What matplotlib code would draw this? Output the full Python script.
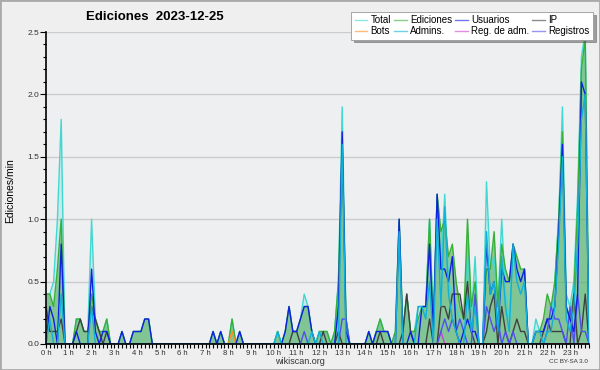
import numpy as np
import matplotlib
matplotlib.use('Agg')
import matplotlib.pyplot as plt
from matplotlib.lines import Line2D
from matplotlib.patches import Rectangle

# values per 10 min (edits/min), one row per hour
total = [0.4, 0.4, 0.5, 1.0, 1.8, 0.0,
         0.0, 0.0, 0.2, 0.2, 0.1, 0.1,
         1.0, 0.2, 0.1, 0.1, 0.2, 0.0,
         0.0, 0.0, 0.1, 0.0, 0.0, 0.1,
         0.1, 0.1, 0.2, 0.2, 0.0, 0.0,
         0.0, 0.0, 0.0, 0.0, 0.0, 0.0,
         0.0, 0.0, 0.0, 0.0, 0.0, 0.0,
         0.0, 0.0, 0.1, 0.0, 0.1, 0.0,
         0.0, 0.2, 0.0, 0.1, 0.0, 0.0,
         0.0, 0.0, 0.0, 0.0, 0.0, 0.0,
         0.0, 0.1, 0.0, 0.1, 0.3, 0.1,
         0.1, 0.2, 0.4, 0.3, 0.1, 0.0,
         0.1, 0.1, 0.1, 0.0, 0.1, 0.5,
         1.9, 0.2, 0.0, 0.0, 0.0, 0.0,
         0.0, 0.1, 0.0, 0.1, 0.2, 0.1,
         0.1, 0.0, 0.1, 1.0, 0.1, 0.4,
         0.1, 0.1, 0.3, 0.3, 0.3, 1.0,
         0.2, 1.2, 0.6, 1.2, 0.5, 0.4,
         0.3, 0.2, 0.1, 0.8, 0.2, 0.7,
         0.0, 0.0, 1.3, 0.6, 0.7, 0.3,
         1.0, 0.4, 0.2, 0.8, 0.6, 0.5,
         0.6, 0.0, 0.0, 0.2, 0.1, 0.1,
         0.2, 0.2, 0.5, 1.0, 1.9, 0.4,
         0.3, 0.5, 1.2, 2.3, 2.5, 0.0]
edits = [0.4, 0.4, 0.3, 0.6, 1.0, 0.0,
         0.0, 0.0, 0.2, 0.2, 0.1, 0.1,
         0.4, 0.2, 0.1, 0.1, 0.2, 0.0,
         0.0, 0.0, 0.1, 0.0, 0.0, 0.1,
         0.1, 0.1, 0.2, 0.2, 0.0, 0.0,
         0.0, 0.0, 0.0, 0.0, 0.0, 0.0,
         0.0, 0.0, 0.0, 0.0, 0.0, 0.0,
         0.0, 0.0, 0.1, 0.0, 0.1, 0.0,
         0.0, 0.2, 0.0, 0.1, 0.0, 0.0,
         0.0, 0.0, 0.0, 0.0, 0.0, 0.0,
         0.0, 0.1, 0.0, 0.1, 0.3, 0.1,
         0.1, 0.2, 0.3, 0.3, 0.1, 0.0,
         0.1, 0.1, 0.1, 0.0, 0.1, 0.5,
         1.6, 0.2, 0.0, 0.0, 0.0, 0.0,
         0.0, 0.1, 0.0, 0.1, 0.2, 0.1,
         0.1, 0.0, 0.1, 1.0, 0.1, 0.4,
         0.1, 0.1, 0.2, 0.3, 0.3, 1.0,
         0.1, 1.2, 0.9, 1.0, 0.7, 0.8,
         0.5, 0.3, 0.2, 1.0, 0.3, 0.5,
         0.0, 0.0, 0.6, 0.6, 0.9, 0.3,
         0.8, 0.6, 0.5, 0.8, 0.7, 0.6,
         0.6, 0.0, 0.0, 0.1, 0.1, 0.2,
         0.4, 0.3, 0.5, 1.0, 1.7, 0.3,
         0.2, 0.4, 1.1, 2.2, 2.45, 0.0]
users = [0.0, 0.3, 0.2, 0.0, 0.8, 0.0,
         0.0, 0.0, 0.1, 0.0, 0.0, 0.0,
         0.6, 0.1, 0.0, 0.1, 0.1, 0.0,
         0.0, 0.0, 0.1, 0.0, 0.0, 0.1,
         0.1, 0.1, 0.2, 0.2, 0.0, 0.0,
         0.0, 0.0, 0.0, 0.0, 0.0, 0.0,
         0.0, 0.0, 0.0, 0.0, 0.0, 0.0,
         0.0, 0.0, 0.1, 0.0, 0.1, 0.0,
         0.0, 0.0, 0.0, 0.1, 0.0, 0.0,
         0.0, 0.0, 0.0, 0.0, 0.0, 0.0,
         0.0, 0.0, 0.0, 0.1, 0.3, 0.1,
         0.1, 0.2, 0.3, 0.3, 0.1, 0.0,
         0.0, 0.0, 0.0, 0.0, 0.0, 0.3,
         1.7, 0.1, 0.0, 0.0, 0.0, 0.0,
         0.0, 0.1, 0.0, 0.1, 0.1, 0.1,
         0.1, 0.0, 0.0, 1.0, 0.0, 0.0,
         0.1, 0.0, 0.0, 0.3, 0.3, 0.8,
         0.1, 1.2, 0.6, 0.6, 0.5, 0.7,
         0.1, 0.0, 0.1, 0.2, 0.1, 0.1,
         0.0, 0.0, 0.8, 0.4, 0.5, 0.1,
         0.6, 0.5, 0.5, 0.8, 0.6, 0.5,
         0.6, 0.0, 0.0, 0.1, 0.1, 0.1,
         0.2, 0.2, 0.3, 0.9, 1.6, 0.3,
         0.2, 0.1, 0.4, 2.1, 2.0, 0.0]
ip = [0.3, 0.1, 0.1, 0.1, 0.2, 0.0,
      0.0, 0.0, 0.1, 0.2, 0.1, 0.1,
      0.3, 0.2, 0.1, 0.0, 0.1, 0.0] + [0.0] * 42 + \
     [0.0, 0.0, 0.0, 0.0, 0.0, 0.1,
      0.1, 0.0, 0.0, 0.0, 0.0, 0.0,
      0.0, 0.1, 0.0, 0.0, 0.0, 0.1,
      0.0, 0.0, 0.0, 0.0, 0.0, 0.0,
      0.0, 0.0, 0.0, 0.0, 0.1, 0.0,
      0.0, 0.0, 0.0, 0.0, 0.1, 0.4,
      0.1, 0.0, 0.0, 0.0, 0.0, 0.2,
      0.0, 0.0, 0.3, 0.3, 0.2, 0.4,
      0.4, 0.4, 0.2, 0.5, 0.1, 0.0,
      0.0, 0.0, 0.1, 0.3, 0.4, 0.0,
      0.3, 0.1, 0.0, 0.1, 0.2, 0.1,
      0.1, 0.0, 0.0, 0.0, 0.0, 0.1,
      0.2, 0.1, 0.1, 0.1, 0.1, 0.0,
      0.0, 0.4, 0.0, 0.1, 0.4, 0.0]
admins = [0.0, 0.2, 0.0, 0.0, 0.4, 0.0,
          0.0, 0.0, 0.0, 0.0, 0.0, 0.0,
          0.3, 0.0, 0.0, 0.0, 0.0, 0.0] + [0.0] * 42 + \
         [0.0, 0.1, 0.0, 0.0, 0.0, 0.0,
          0.0, 0.0, 0.0, 0.0, 0.1, 0.0,
          0.1, 0.0, 0.0, 0.0, 0.0, 0.0,
          1.6, 0.0, 0.0, 0.0, 0.0, 0.0,
          0.0, 0.0, 0.0, 0.0, 0.0, 0.0,
          0.0, 0.0, 0.0, 0.9, 0.0, 0.0,
          0.0, 0.0, 0.3, 0.3, 0.2, 0.5,
          0.0, 1.0, 0.3, 1.1, 0.4, 0.2,
          0.1, 0.0, 0.0, 0.4, 0.1, 0.3,
          0.0, 0.0, 0.9, 0.4, 0.5, 0.1,
          0.7, 0.3, 0.1, 0.8, 0.5, 0.4,
          0.5, 0.0, 0.0, 0.1, 0.1, 0.0,
          0.1, 0.1, 0.3, 0.8, 1.5, 0.2,
          0.1, 0.3, 0.8, 1.8, 2.0, 0.0]
registros = [0.0] * 68 + [0.1] + [0.0] * 9 + [0.2, 0.2] + [0.0] * 22 + \
            [0.0, 0.0, 0.1, 0.2, 0.1, 0.2,
             0.1, 0.2, 0.1, 0.0, 0.0, 0.4,
             0.0, 0.0, 0.3, 0.2, 0.1, 0.2,
             0.0, 0.1, 0.0, 0.1, 0.0, 0.0,
             0.0, 0.0, 0.0, 0.0, 0.0, 0.0,
             0.1, 0.3, 0.2, 0.2, 0.1, 0.0,
             0.3, 0.0, 0.4, 0.1, 0.1, 0.0]
bots = [0.0] * 49 + [0.1] + [0.0] * 94
regadm = [0.0] * 104 + [0.1] + [0.0] * 39

hour_labels = ['%d h' % h for h in range(24)]

x = np.arange(len(total)) / 6.0

fig = plt.figure(figsize=(6, 3.7), dpi=100, facecolor='#efefef')
plt.rcParams['font.family'] = ['Liberation Sans', 'DejaVu Sans']
ax = fig.add_axes([0.0767, 0.0703, 0.905, 0.8432])
ax.set_facecolor('#eeeff1')

ax.fill_between(x, total, color='#40d0d0', alpha=0.2, lw=0)
ax.fill_between(x, edits, color='#51ae5d', alpha=0.6, lw=0)
ax.plot(x, total, color='#40d8d0', lw=1.0)
ax.plot(x, edits, color='#38b038', lw=1.0)
ax.plot(x, bots, color='#ff9020', lw=1.0)
ax.plot(x, regadm, color='#d040d0', lw=1.0)
ax.plot(x, ip, color='#404040', lw=1.0)
ax.plot(x, registros, color='#5050f0', lw=1.0)
ax.plot(x, users, color='#1020e0', lw=1.0)
ax.plot(x, admins, color='#10b0d8', lw=1.0)

ax.set_xlim(0, x[-1])
ax.set_ylim(0, 2.5)
ax.set_yticks(np.arange(0, 2.51, 0.5))
ax.set_yticklabels(['%.1f' % v for v in np.arange(0, 2.51, 0.5)])
ax.set_yticks(np.arange(0, 2.51, 0.1), minor=True)
ax.set_xticks(range(24))
ax.set_xticklabels(hour_labels)
ax.set_xticks(np.arange(0, 24, 1 / 6.0), minor=True)
ax.tick_params(axis='both', which='both', direction='out', labelsize=6,
               labelcolor='#333333', width=0.8, pad=1)
ax.tick_params(axis='x', which='major', labelsize=5.6)
ax.tick_params(axis='y', which='major', length=4)
ax.tick_params(axis='y', which='minor', length=2.5)
ax.tick_params(axis='x', which='both', length=3)
ax.grid(axis='y', color='#cccccc', lw=1)
ax.set_axisbelow(True)
for s in ['top', 'right']:
    ax.spines[s].set_visible(False)
for s in ['left', 'bottom']:
    ax.spines[s].set_linewidth(1.2)

fig.text(0.258, 0.955, 'Ediciones  2023-12-25', ha='center', va='center',
         fontsize=9.5, fontweight='bold')
fig.text(0.017, 0.486, 'Ediciones/min', rotation=90, ha='center', va='center',
         fontsize=7.5)
fig.text(0.5, 0.022, 'wikiscan.org', ha='center', va='center', fontsize=6.5,
         color='#333333')
fig.text(0.948, 0.022, 'CC BY-SA 3.0', ha='center', va='center', fontsize=4.5,
         color='#333333')

# legend, ordered column by column so rows read left to right
names = ['Total', 'Bots', 'Ediciones', 'Admins.', 'Usuarios', 'Reg. de adm.',
         'IP', 'Registros']
cols = ['#40d8d0', '#ff9020', '#38b038', '#10b0d8', '#1020e0', '#d040d0',
        '#404040', '#5050f0']
handles = [Line2D([], [], color=c, lw=1.0, alpha=0.6) for c in cols]
leg = fig.legend(handles, names, ncol=4, loc='upper right',
                 bbox_to_anchor=(0.988, 0.968), fontsize=7, frameon=True,
                 fancybox=False, shadow=True, handlelength=1.3,
                 handletextpad=0.35, columnspacing=0.3, labelspacing=0.1,
                 borderpad=0.35, borderaxespad=0)
leg.get_frame().set_edgecolor('#999999')
leg.get_frame().set_linewidth(0.6)

fig.patches.append(Rectangle((0, 0), 1, 1, transform=fig.transFigure,
                             fill=False, edgecolor='#aaaaaa', lw=2))

plt.savefig('out.png', dpi=100, facecolor=fig.get_facecolor())
